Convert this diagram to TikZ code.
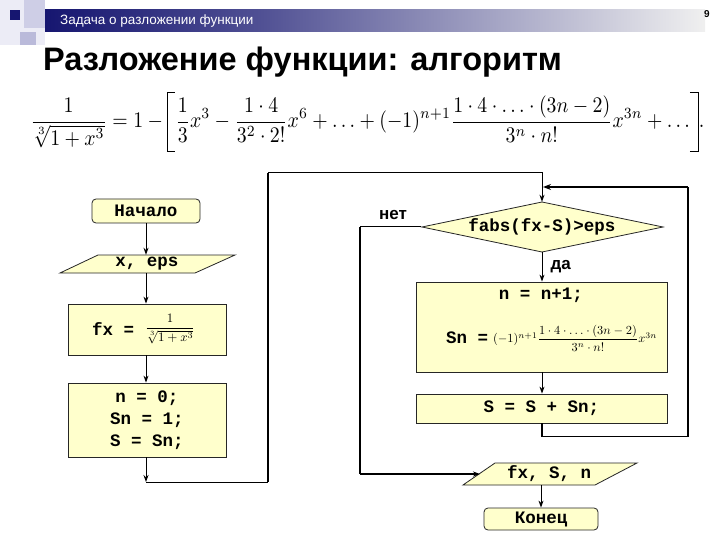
\documentclass[tikz,border=0pt]{standalone}
\usepackage[no-math]{fontspec}
\usepackage{amsmath}
\usetikzlibrary{arrows.meta,calc}
\newfontfamily\arial{Liberation Sans}
\newfontfamily\cour{Liberation Mono}
\definecolor{boxfill}{RGB}{255,255,204}
\definecolor{navy}{RGB}{22,22,112}
\definecolor{lav1}{RGB}{236,236,246}
\definecolor{lav2}{RGB}{206,206,230}
\definecolor{lav3}{RGB}{186,186,218}
\newcommand\mylbrk{\mathopen{\rlap{\rule[-11pt]{4pt}{0.45pt}}\rlap{\rule[15.55pt]{4pt}{0.45pt}}\rule[-11pt]{0.45pt}{27pt}\kern3.6pt}}
\newcommand\myrbrk{\mathclose{\kern4pt\llap{\rule[-11pt]{4pt}{0.45pt}}\llap{\rule[15.55pt]{4pt}{0.45pt}}\rule[-11pt]{0.45pt}{27pt}}}
\tikzset{
  blk/.style={draw=black!85,line width=0.8pt,fill=boxfill,inner sep=0pt},
  term/.style={blk,rounded corners=4pt},
  mono/.style={font=\cour\bfseries\fontsize{17.5}{22}\selectfont},
  lbl/.style={font=\arial\bfseries\fontsize{17}{20}\selectfont},
  arr/.style={line width=1pt,-{Stealth[length=7pt,width=5pt]}},
  loopline/.style={line width=1.7pt},
  para/.style={draw=black!85,line width=0.8pt,fill=boxfill},
  txt/.style={inner sep=0pt}
}
\begin{document}
\begin{tikzpicture}[x=1pt,y=-1pt]
\useasboundingbox (0,0) rectangle (720,540);
\fill[white] (0,0) rectangle (720,540);
% header decoration
\fill[lav1] (0,0) rectangle (45,45);
\fill[lav2] (24,0) rectangle (45,28);
\fill[lav3] (20,32) rectangle (36,45);
\shade[left color=navy,right color=navy!75!white] (45,10) rectangle (260,32);
\shade[left color=navy!75!white,right color=black!6] (260,10) rectangle (705,32);
\fill[navy] (10,10) rectangle (20,20);
\node[txt,anchor=west,text=white,font=\arial\fontsize{13.5}{16}\selectfont] (hdr) at (60,21) {Задача о разложении функции};
\node[txt,font=\arial\bfseries\fontsize{10}{12}\selectfont] (pg) at (707,14) {9};
% title
\node[txt,anchor=base west,font=\arial\bfseries\fontsize{32.5}{38}\selectfont] (title) at (43,71) {Разложение функции: алгоритм};
% formula
\node[txt,anchor=west] (formula) at (30,122) {\resizebox*{674pt}{60pt}{$\displaystyle \frac{1}{\sqrt[3]{1+x^3}}=1-\mylbrk\frac{1}{3}x^3-\frac{1\cdot 4}{3^2\cdot 2!}x^6+\ldots+(-1)^{n+1}\frac{1\cdot 4\cdot\ldots\cdot(3n-2)}{3^n\cdot n!}x^{3n}+\ldots\myrbrk.$}};
% left column
\node[term,mono,minimum width=108pt,minimum height=24pt] (start) at (146,211) {Начало};
\draw[para] (98,255) -- (235,255) -- (195,273) -- (60,273) -- cycle;
\node[txt,mono,minimum height=18pt] (in) at (147,264) {x, eps};
\node[blk,minimum width=158pt,minimum height=51pt] (fx) at (147,329.5) {};
\node[txt,mono,anchor=west] (fxl) at (92,329) {fx =};
\node[txt] (fxf) at (170,329) {\resizebox{50pt}{!}{$\dfrac{1}{\sqrt[3]{1+x^3}}$}};
\node[blk,mono,align=center,minimum width=158pt,minimum height=74pt] (init) at (147,420) {n = 0;\\Sn = 1;\\S = Sn;};
\coordinate (c1) at (146,482);
\coordinate (c2) at (268,173);
% right column
\draw[para] (422,227) -- (542,202) -- (663,227) -- (542,252) -- cycle;
\node[txt,mono,minimum width=241pt,minimum height=50pt] (dia) at (542,227) {fabs(fx-S)>eps};
\node[blk,minimum width=251pt,minimum height=90pt] (calc) at (541.5,327) {};
\node[txt,mono] (calc1) at (541,295) {n = n+1;};
\node[txt,mono,anchor=west] (calc2) at (446,338) {Sn =};
\node[txt] (calcf) at (575,338) {\resizebox{164pt}{!}{$(-1)^{n+1}\dfrac{1\cdot 4\cdot\ldots\cdot(3n-2)}{3^n\cdot n!}x^{3n}$}};
\node[blk,mono,minimum width=251pt,minimum height=29pt] (sum) at (541.5,408.5) {S = S + Sn;};
\draw[para] (495,463) -- (637,463) -- (595,485) -- (463,485) -- cycle;
\node[txt,mono,minimum height=22pt] (out) at (549,474) {fx, S, n};
\node[term,mono,minimum width=114pt,minimum height=22pt] (end) at (541,519) {Конец};
\coordinate (c3) at (688,187);
\coordinate (c4) at (543,187);
\coordinate (c5) at (360,227);
\coordinate (outL) at (480,474);
% labels
\node[lbl] (no) at (393,215) {нет};
\node[lbl,anchor=west] (yes) at (547,267) {да};
% connectors
\draw[arr] (start.south) -- (start.south |- in.north);
\draw[arr] (in.south -| start.south) -- (start.south |- fx.north);
\draw[arr] (fx.south -| start.south) -- (start.south |- init.north);
\draw[arr] (init.south -| start.south) -- (c1);
\draw[line width=1pt] (c1) -- (c1 -| c2);
\draw[loopline] (c1 -| c2) -- (c2);
\draw[arr] (c2) -| (dia.north);
\draw[arr] (dia.south) -- (dia.south |- calc.north);
\draw[arr] (calc.south -| dia.south) -- (dia.south |- sum.north);
\draw[loopline] (sum.south -| dia.south) -- ++(0,13) -| (c3);
\draw[loopline,-{Stealth[length=8pt,width=6pt]}] (c3) -- (c4);
\draw[line width=1pt] (dia.west) -- (c5);
\draw[loopline] (c5) -- (c5 |- outL);
\draw[arr,line width=1.7pt] (c5 |- outL) -- (outL);
\draw[arr] (end.north |- out.south) -- (end.north);
\end{tikzpicture}
\end{document}
